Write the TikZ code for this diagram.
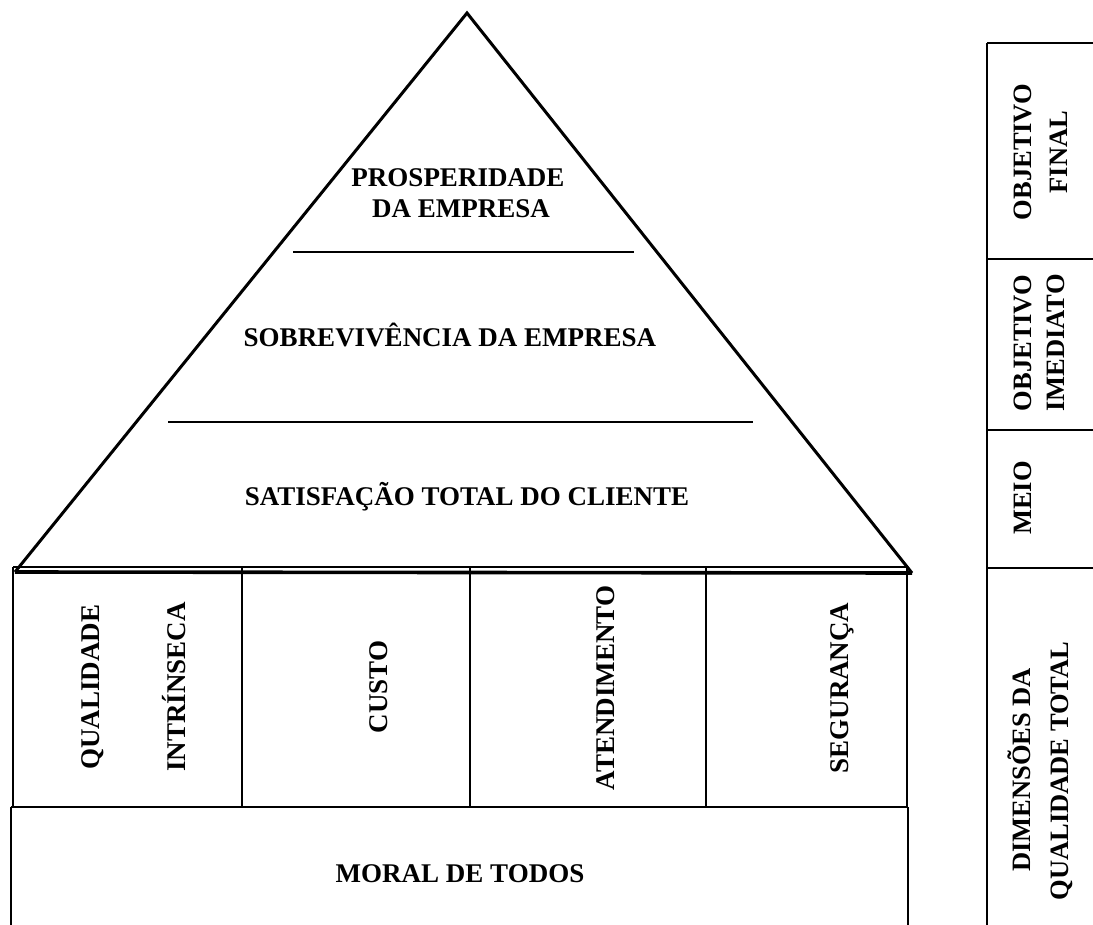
\documentclass[tikz,border=0pt]{standalone}
\usepackage{fontspec}
\setmainfont{Liberation Serif}
\begin{document}
\begin{tikzpicture}[x=1pt,y=-1pt,
  lbl/.style={font=\fontsize{27}{32}\selectfont\bfseries, inner sep=0pt, anchor=base},
  vlbl/.style={lbl, rotate=90},
  rlbl/.style={vlbl, font=\fontsize{26.5}{32}\selectfont\bfseries},
  side line/.style={line width=3pt},
  mid line/.style={line width=2.8pt},
  thin line/.style={line width=1.4pt}]
\useasboundingbox (0,0) rectangle (1093,925);
% pyramid
\coordinate (apex) at (467,13);
\coordinate (bl) at (15,572);
\coordinate (br) at (912,573);
\draw[side line, line join=miter] (bl) -- (apex) -- (br);
\draw[line width=3.6pt] (bl) -- (br);
\coordinate (l1a) at (293,252); \coordinate (l1b) at (634,252);
\coordinate (l2a) at (168,422); \coordinate (l2b) at (753,422);
\draw[mid line] (l1a) -- (l1b);
\draw[mid line] (l2a) -- (l2b);
\node[lbl] (prosp1) at (458,187) {PROSPERIDADE};
\node[lbl] (prosp2) at (461,218) {DA EMPRESA};
\node[lbl] (sobre) at (450,347) {SOBREVIVÊNCIA DA EMPRESA};
\node[lbl] (satis) at (467,505) {SATISFAÇÃO TOTAL DO CLIENTE};
% dimension boxes
\coordinate (d0) at (13,567); \coordinate (d0b) at (13,807);
\coordinate (d1) at (242,567); \coordinate (d1b) at (242,807);
\coordinate (d2) at (470,567); \coordinate (d2b) at (470,807);
\coordinate (d3) at (706,567); \coordinate (d3b) at (706,807);
\coordinate (d4) at (907,567); \coordinate (d4b) at (907,807);
\draw[thin line] (d0) -- (d4);
\draw[thin line] (d0) -- (d0b);
\draw[thin line] (d1) -- (d1b);
\draw[thin line] (d2) -- (d2b);
\draw[thin line] (d3) -- (d3b);
\draw[thin line] (d4) -- (d4b);
\coordinate (m0) at (11,807); \coordinate (m0b) at (11,925);
\coordinate (m1) at (908,807); \coordinate (m1b) at (908,925);
\draw[thin line] (m0) -- (m1);
\draw[thin line] (m0) -- (m0b);
\draw[thin line] (m1) -- (m1b);
\node[vlbl] (qual) at (99,687) {QUALIDADE};
\node[vlbl] (intr) at (185,687) {INTRÍNSECA};
\node[vlbl] (custo) at (387,687) {CUSTO};
\node[vlbl] (atend) at (614,688) {ATENDIMENTO};
\node[vlbl] (segur) at (848,688) {SEGURANÇA};
\node[lbl] (moral) at (460,882) {MORAL DE TODOS};
% right column
\coordinate (r0) at (987,43); \coordinate (r0b) at (987,925);
\coordinate (r0e) at (1093,43);
\coordinate (r1) at (987,259); \coordinate (r1e) at (1093,259);
\coordinate (r2) at (987,430); \coordinate (r2e) at (1093,430);
\coordinate (r3) at (987,568); \coordinate (r3e) at (1093,568);
\draw[thin line] (r0) -- (r0b);
\draw[thin line] (r0) -- (r0e);
\draw[thin line] (r1) -- (r1e);
\draw[thin line] (r2) -- (r2e);
\draw[thin line] (r3) -- (r3e);
\node[rlbl] (objf1) at (1031,152) {OBJETIVO};
\node[rlbl] (objf2) at (1067,152) {FINAL};
\node[rlbl] (obji1) at (1031,343) {OBJETIVO};
\node[rlbl] (obji2) at (1064,343) {IMEDIATO};
\node[rlbl] (meio) at (1031,498) {MEIO};
\node[rlbl] (dim1) at (1030,770) {DIMENSÕES DA};
\node[rlbl] (dim2) at (1068,771) {QUALIDADE TOTAL};
\end{tikzpicture}
\end{document}
